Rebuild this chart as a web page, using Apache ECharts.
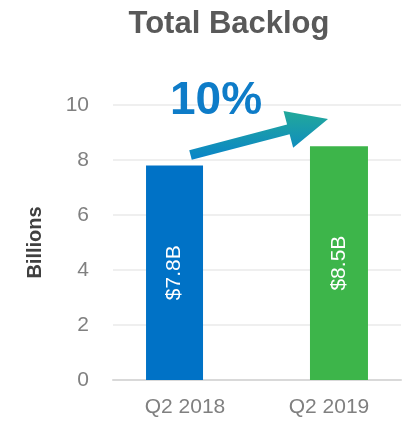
<!DOCTYPE html>
<html>
<head>
<meta charset="utf-8">
<script src="https://cdn.jsdelivr.net/npm/echarts@6/dist/echarts.min.js"></script>
<style>
  html, body { margin: 0; padding: 0; background: #fff; }
  #chart { width: 413px; height: 422px; }
</style>
</head>
<body>
<div id="chart"></div>
<script>
  // data
  var categories = ['Q2 2018', 'Q2 2019'];
  var backlog = [7.8, 8.5];
  var barLabels = ['$7.8B', '$8.5B'];
  var yTicks = { min: 0, max: 10, step: 2 };
  var growthText = '10%';

  var FONT = '"Liberation Sans", Arial, sans-serif';

  var chart = echarts.init(document.getElementById('chart'));

  // arrow shape (decoration), computed from start / tip
  function arrowPoints(x0, y0, x1, y1, half, headHalf, headLen) {
    var dx = x1 - x0, dy = y1 - y0;
    var len = Math.sqrt(dx * dx + dy * dy);
    var ux = dx / len, uy = dy / len;
    var nx = -uy, ny = ux;
    var bx = x1 - ux * headLen, by = y1 - uy * headLen;
    return [
      [x0 + nx * half, y0 + ny * half],
      [bx + nx * half, by + ny * half],
      [bx + nx * headHalf, by + ny * headHalf],
      [x1, y1],
      [bx - nx * headHalf, by - ny * headHalf],
      [bx - nx * half, by - ny * half],
      [x0 - nx * half, y0 - ny * half]
    ];
  }

  // blue bar sits in the left slot of cat 1, green in the right slot of cat 2
  var blueData = [backlog[0], '-'];
  var greenData = ['-', backlog[1]];

  var option = {
    animation: false,
    title: {
      text: 'Total Backlog',
      left: 224,
      textAlign: 'center',
      top: 4,
      textStyle: { fontFamily: FONT, fontSize: 31, fontWeight: 'bold', color: '#595959' }
    },
    grid: { left: 113, right: 12, top: 105, bottom: 42 },
    xAxis: {
      type: 'category',
      data: categories,
      axisTick: { show: false },
      axisLine: { lineStyle: { color: '#d9d9d9', width: 2 } },
      axisLabel: { fontFamily: FONT, fontSize: 21, color: '#808080', margin: 17 }
    },
    yAxis: {
      type: 'value',
      min: yTicks.min,
      max: yTicks.max,
      interval: yTicks.step,
      name: 'Billions',
      nameLocation: 'middle',
      nameGap: 68,
      nameRotate: 90,
      nameTextStyle: { fontFamily: FONT, fontSize: 20, fontWeight: 'bold', color: '#404040' },
      axisLabel: { fontFamily: FONT, fontSize: 21, color: '#808080', margin: 24 },
      splitLine: { lineStyle: { color: '#efefef', width: 2 } }
    },
    series: [
      {
        type: 'bar',
        data: blueData,
        barWidth: 57,
        barGap: '-65%',
        itemStyle: { color: '#0072c6' },
        label: {
          show: true, position: 'inside', rotate: 90,
          formatter: function () { return barLabels[0]; },
          fontFamily: FONT, fontSize: 21, color: '#fff'
        }
      },
      {
        type: 'bar',
        data: greenData,
        barWidth: 58,
        itemStyle: { color: '#3db54a' },
        label: {
          show: true, position: 'inside', rotate: 90,
          formatter: function () { return barLabels[1]; },
          fontFamily: FONT, fontSize: 21, color: '#fff'
        }
      }
    ],
    graphic: [
      {
        type: 'polygon',
        shape: { points: arrowPoints(190.5, 155, 328, 119, 5, 19, 41) },
        style: {
          fill: new echarts.graphic.LinearGradient(0, 0, 0, 1, [
            { offset: 0, color: '#22a99a' },
            { offset: 1, color: '#0a84c9' }
          ])
        },
        z: 100
      },
      {
        type: 'text',
        left: 170,
        top: 78,
        style: {
          text: growthText,
          fontFamily: FONT, fontSize: 46, fontWeight: 'bold', fill: '#0e7cc8'
        },
        z: 100
      }
    ]
  };

  chart.setOption(option);
</script>
</body>
</html>
